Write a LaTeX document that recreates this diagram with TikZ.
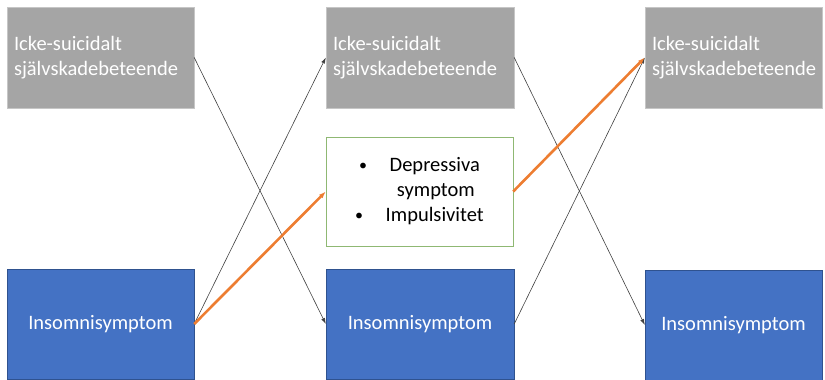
\documentclass[tikz,border=0pt]{standalone}
\usepackage{fontspec}
\setmainfont{Carlito}
\usetikzlibrary{arrows.meta}

\definecolor{boxgray}{HTML}{A5A5A5}
\definecolor{boxblue}{HTML}{4472C4}
\definecolor{edgeblue}{HTML}{2F528F}
\definecolor{edgegreen}{HTML}{8FB873}
\definecolor{pathorange}{HTML}{ED7D31}

\newcommand{\medbullet}{\raisebox{1.5pt}{\fontsize{16}{16}\selectfont\textbullet}}

\begin{document}
\begin{tikzpicture}[x=1pt, y=-1pt,
    font=\fontsize{20.5}{25}\selectfont,
    graybox/.style={draw=gray!45, fill=boxgray, text=white, minimum height=101pt,
      text width=#1, align=left, inner sep=0pt},
    bluebox/.style={draw=edgeblue, fill=boxblue, text=white, minimum height=110pt,
      minimum width=#1, inner sep=0pt},
    medbox/.style={draw=edgegreen, fill=white, minimum width=187pt, minimum height=109pt,
      align=center, inner sep=0pt},
    link/.style={-{Latex[length=6pt,width=4pt]}, black!75, line width=0.6pt},
    pathway/.style={-{Latex[length=7pt,width=5pt]}, pathorange, line width=2.6pt}]

  \useasboundingbox (0,0) rectangle (825,380);

  % Self-harm at three time points
  \node (g1) at (100.5, 57.5) [graybox=173pt, minimum width=187pt] {Icke-suicidalt\\självskadebeteende};
  \node (g2) at (420, 57.5) [graybox=174pt, minimum width=188pt] {Icke-suicidalt\\självskadebeteende};
  \node (g3) at (733.5, 57.5) [graybox=163pt, minimum width=177pt] {Icke-suicidalt\\självskadebeteende};

  % Mediators
  \node (med) at (419.5, 191.5) [medbox]
    {\medbullet\hspace{1.1em}Depressiva\\ \hspace*{1.6em}symptom\\ \medbullet\hspace{1.1em}Impulsivitet};

  % Insomnia at three time points
  \node (b1) at (100.5, 324) [bluebox=187pt] {Insomnisymptom};
  \node (b2) at (420, 324) [bluebox=188pt] {Insomnisymptom};
  \node (b3) at (733.5, 325) [bluebox=177pt] {Insomnisymptom};

  % Cross-lagged paths
  \draw[link] (g1.east) -- (b2.west);
  \draw[link] (b1.east) -- (g2.west);
  \draw[link] (g2.east) -- (b3.west);
  \draw[link] (b2.east) -- (g3.west);

  % Indirect path
  \draw[pathway] (b1.east) -- (med.west);
  \draw[pathway] (med.east) -- (g3.west);

\end{tikzpicture}
\end{document}
